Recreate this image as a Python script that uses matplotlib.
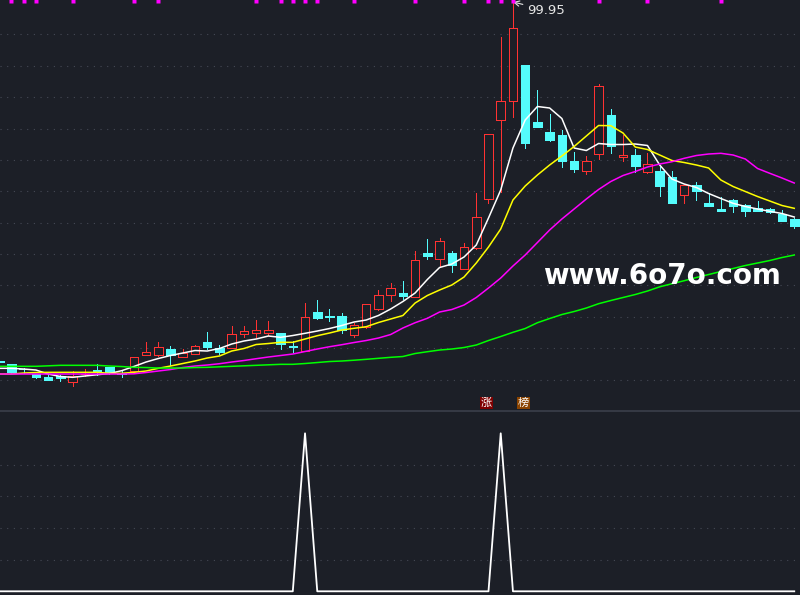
import numpy as np
import matplotlib
matplotlib.use("Agg")
import matplotlib.pyplot as plt
from matplotlib.patches import Rectangle
import matplotlib.transforms as mtransforms

# daily candles (price)
opens = [64.10, 63.75, 63.30, 62.75, 62.45, 62.55, 61.92, 62.72, 63.18, 63.42,
         62.85, 63.08, 64.68, 64.68, 65.25, 64.42, 64.72, 65.95, 65.32, 65.32,
         66.72, 66.88, 66.88, 66.82, 65.55, 65.02, 68.92, 68.58, 68.55, 66.62,
         67.42, 69.28, 70.62, 70.82, 70.48, 74.85, 74.22, 74.88, 73.28, 75.35,
         80.28, 88.12, 90.02, 93.65, 87.95, 86.95, 86.65, 84.05, 83.02, 84.72,
         88.65, 84.42, 84.65, 82.98, 83.05, 82.45, 80.62, 81.65, 79.85, 79.28,
         80.15, 79.65, 79.38, 79.25, 78.75, 78.25]
highs = [64.15, 63.80, 63.32, 62.75, 62.68, 62.65, 63.05, 63.22, 63.75, 63.45,
         63.15, 64.45, 65.92, 65.92, 65.55, 65.22, 65.65, 66.95, 65.62, 67.55,
         67.55, 68.15, 68.02, 66.85, 66.08, 69.82, 70.15, 69.25, 68.82, 67.82,
         69.78, 71.15, 71.82, 72.05, 75.05, 76.30, 76.35, 75.08, 75.88, 80.85,
         86.78, 96.45, 99.95, 93.65, 91.15, 88.75, 87.15, 84.95, 84.55, 91.75,
         89.25, 86.65, 85.25, 84.82, 83.48, 83.05, 81.65, 81.98, 80.88, 80.48,
         80.28, 79.75, 80.05, 79.35, 79.15, 78.35]
lows = [63.85, 62.90, 62.90, 62.32, 62.15, 62.08, 61.55, 62.55, 62.65, 62.80,
        62.42, 63.05, 64.68, 64.55, 63.65, 64.42, 64.72, 65.22, 64.75, 65.32,
        66.42, 66.48, 66.65, 65.25, 64.98, 65.02, 68.22, 68.08, 66.82, 66.48,
        67.40, 69.15, 70.08, 70.25, 70.48, 74.22, 73.42, 72.98, 73.28, 75.25,
        79.88, 80.95, 88.48, 85.35, 87.45, 86.05, 83.48, 82.95, 82.75, 84.22,
        84.88, 84.08, 82.98, 82.88, 80.55, 79.85, 79.82, 80.15, 79.55, 79.05,
        78.98, 78.58, 79.05, 78.85, 78.05, 77.38]
closes = [63.95, 62.95, 63.22, 62.48, 62.18, 62.32, 62.55, 62.80, 63.10, 62.82,
          62.77, 64.42, 64.92, 65.42, 64.68, 64.82, 65.52, 65.45, 64.92, 66.75,
          67.02, 67.12, 67.12, 65.72, 65.42, 68.42, 68.38, 68.45, 67.15, 67.62,
          69.75, 70.62, 71.32, 70.60, 74.12, 74.58, 76.05, 73.65, 75.42, 78.45,
          86.75, 90.02, 97.32, 85.88, 87.45, 86.15, 84.08, 83.28, 84.02, 91.52,
          85.58, 84.65, 83.58, 83.75, 81.55, 79.88, 81.62, 81.08, 79.58, 79.08,
          79.58, 79.08, 79.08, 78.92, 78.08, 77.58]

# moving averages as drawn
ma5 = [63.32, 63.32, 63.25, 63.15, 62.75, 62.50, 62.42, 62.55, 62.68, 62.80,
       63.08, 63.50, 63.95, 64.30, 64.60, 64.85, 65.10, 65.05, 65.30, 65.75,
       66.05, 66.25, 66.55, 66.42, 66.60, 66.82, 67.05, 67.30, 67.60, 67.95,
       68.15, 68.60, 69.25, 70.00, 70.85, 72.20, 73.40, 73.75, 74.45, 75.65,
       78.35, 81.15, 85.35, 88.15, 89.50, 89.35, 88.30, 85.35, 85.10, 85.80,
       85.70, 85.70, 85.75, 85.60, 83.65, 82.25, 81.75, 81.40, 80.80, 80.30,
       79.82, 79.50, 79.25, 79.02, 78.80, 78.45]
ma10 = [62.75, 62.75, 62.85, 62.90, 62.92, 62.92, 62.92, 62.92, 62.92, 62.82,
        62.82, 62.92, 63.05, 63.32, 63.55, 63.80, 64.05, 64.35, 64.55, 65.05,
        65.30, 65.70, 65.80, 65.92, 65.92, 66.25, 66.58, 66.85, 67.15, 67.32,
        67.48, 67.90, 68.25, 68.60, 69.85, 70.60, 71.15, 71.65, 72.45, 73.85,
        75.45, 77.25, 80.15, 81.55, 82.65, 83.65, 84.55, 85.50, 86.55, 87.60,
        87.58, 86.85, 85.45, 85.20, 84.65, 84.10, 83.90, 83.65, 83.35, 82.15,
        81.50, 81.00, 80.50, 80.05, 79.60, 79.32]
ma20 = [62.75, 62.75, 62.75, 62.75, 62.75, 62.75, 62.75, 62.75, 62.75, 62.75,
        62.75, 62.77, 62.90, 63.05, 63.20, 63.40, 63.55, 63.65, 63.78, 63.95,
        64.10, 64.28, 64.45, 64.60, 64.75, 65.00, 65.25, 65.48, 65.68, 65.90,
        66.10, 66.35, 66.70, 67.35, 67.88, 68.32, 68.95, 69.20, 69.65, 70.40,
        71.35, 72.35, 73.55, 74.65, 75.90, 77.15, 78.25, 79.25, 80.25, 81.20,
        82.00, 82.60, 83.00, 83.45, 83.75, 83.98, 84.32, 84.60, 84.75, 84.82,
        84.65, 84.25, 83.30, 82.82, 82.35, 81.85]
ma60 = [63.52, 63.52, 63.52, 63.52, 63.57, 63.62, 63.62, 63.62, 63.62, 63.55,
        63.50, 63.42, 63.40, 63.35, 63.35, 63.35, 63.40, 63.42, 63.47, 63.52,
        63.57, 63.62, 63.67, 63.72, 63.72, 63.80, 63.90, 64.00, 64.05, 64.13,
        64.22, 64.32, 64.42, 64.50, 64.80, 64.98, 65.15, 65.25, 65.40, 65.65,
        66.10, 66.50, 66.92, 67.30, 67.88, 68.30, 68.70, 69.00, 69.35, 69.78,
        70.10, 70.40, 70.70, 71.05, 71.47, 71.78, 72.08, 72.40, 72.70, 73.00,
        73.30, 73.60, 73.85, 74.10, 74.40, 74.65]

# lower indicator
signal = [0, 0, 0, 0, 0, 0, 0, 0, 0, 0,
          0, 0, 0, 0, 0, 0, 0, 0, 0, 0,
          0, 0, 0, 0, 0, 1, 0, 0, 0, 0,
          0, 0, 0, 0, 0, 0, 0, 0, 0, 0,
          0, 1, 0, 0, 0, 0, 0, 0, 0, 0,
          0, 0, 0, 0, 0, 0, 0, 0, 0, 0,
          0, 0, 0, 0, 0, 0]

# magenta flags along the top edge
flag_days = [1, 2, 3, 6, 11, 13, 21, 23, 24, 25, 26, 29, 34, 38, 40, 41, 42, 49, 53, 59]

tags = [(40, "涨", "#7f0000"), (43, "榜", "#8a4300")]
high_label = "99.95"

bg = "#1c1f27"
up_col = "#ff3232"
dn_col = "#54fcfc"
grid_col = "#454955"

x = np.arange(len(closes))

fig = plt.figure(figsize=(8, 5.95), dpi=100, facecolor=bg)
ax = fig.add_axes([0, 0.3087, 1, 0.6913], facecolor=bg)
ax2 = fig.add_axes([0, 0, 1, 0.3087], facecolor=bg)

# candles
w = 0.7
px = 0.72  # one pixel in points
for i in x:
    o, h, l, c = opens[i], highs[i], lows[i], closes[i]
    if c >= o:
        ax.vlines(i, l, h, color=up_col, lw=px, zorder=2, antialiased=False)
        ax.add_patch(Rectangle((i - w / 2, o), w, max(c - o, 0.02),
                               facecolor=bg, edgecolor=up_col, lw=px,
                               zorder=3, antialiased=False))
    else:
        ax.vlines(i, l, h, color=dn_col, lw=px, zorder=2, antialiased=False)
        ax.add_patch(Rectangle((i - w / 2, c), w, max(o - c, 0.02),
                               facecolor=dn_col, edgecolor=dn_col, lw=px,
                               zorder=3, antialiased=False))

ax.plot(x, ma5, color="white", lw=1.1, zorder=4)
ax.plot(x, ma10, color="#ffff00", lw=1.1, zorder=4)
ax.plot(x, ma20, color="#ff00ff", lw=1.1, zorder=4)
ax.plot(x, ma60, color="#00ff00", lw=1.1, zorder=4)

trans = mtransforms.blended_transform_factory(ax.transData, ax.transAxes)
ax.plot(flag_days, [0.9965] * len(flag_days), ls="none", marker="s", ms=2.6,
        color="#ff00ff", mec="none", transform=trans, clip_on=False, zorder=5)

imax = int(np.argmax(highs))
ax.annotate(high_label, xy=(imax, highs[imax]), xytext=(14, -8),
            textcoords="offset pixels", ha="left", va="center",
            fontsize=9.5, color="#e6e6e6",
            arrowprops=dict(arrowstyle="->", color="#e6e6e6", lw=0.8,
                            shrinkA=1, shrinkB=0))

for day, txt, col in tags:
    ax.text(day - 0.16, 0.02, txt, transform=trans, ha="center", va="center",
            fontsize=8, color="white", family=["Noto Sans CJK SC", "DejaVu Sans"],
            bbox=dict(boxstyle="square,pad=0.08", fc=col, ec="none"), zorder=6)

ax.set_xlim(0.06, 65.47)
ax.set_ylim(59.02, 100.15)
ax.set_yticks(96.71 - 3.138 * np.arange(12))
ax.grid(axis="y", color=grid_col, lw=0.8, ls=(0, (1, 5)))
ax.tick_params(left=False, bottom=False, labelleft=False, labelbottom=False)
for s in ax.spines.values():
    s.set_visible(False)

# lower panel
ax2.plot(x, signal, color="white", lw=1.3)
ax2.set_xlim(0.06, 65.47)
ax2.set_ylim(-0.0234, 1.139)
ax2.set_yticks([0.2, 0.4, 0.6, 0.8])
ax2.grid(axis="y", color=grid_col, lw=0.8, ls=(0, (1, 5)))
ax2.tick_params(left=False, bottom=False, labelleft=False, labelbottom=False)
for s in ax2.spines.values():
    s.set_visible(False)
ax2.spines["top"].set_visible(True)
ax2.spines["top"].set_color("#3b3f4a")
ax2.spines["top"].set_linewidth(1.2)

fig.text(0.8275, 0.536, "www.6o7o.com", ha="center", va="center",
         fontsize=20, fontweight="bold", color="white", zorder=10)

fig.savefig("out.png", dpi=100, facecolor=bg)
